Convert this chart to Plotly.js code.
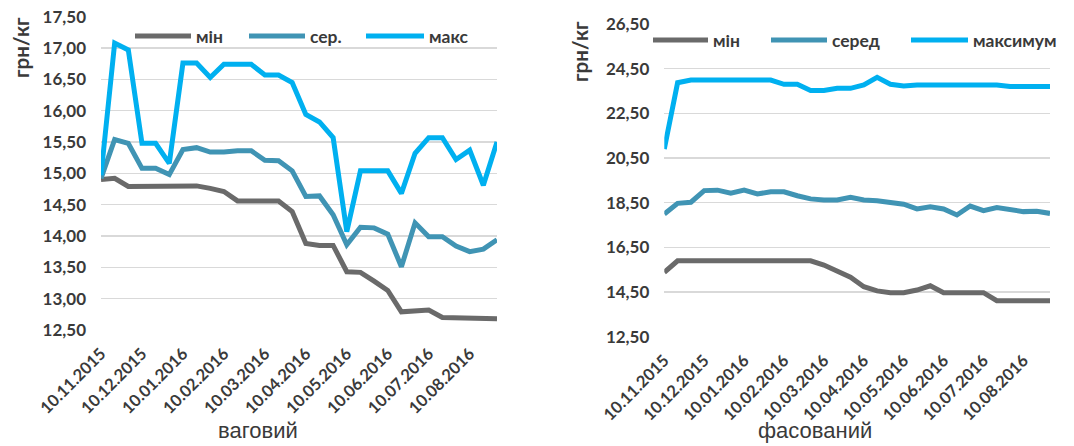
<!DOCTYPE html>
<html>
<head>
<meta charset="utf-8">
<script src="https://cdn.plot.ly/plotly-3.0.1.min.js"></script>
<style>
html,body{margin:0;padding:0;background:#fff;}
#chart{width:1074px;height:446px;}
</style>
</head>
<body>
<div id="chart"></div>
<script>
// Dates (roughly every 10 days)
const dates = [
  "10.11.2015","20.11.2015","30.11.2015",
  "10.12.2015","20.12.2015","30.12.2015",
  "10.01.2016","20.01.2016","30.01.2016",
  "10.02.2016","20.02.2016","29.02.2016",
  "10.03.2016","20.03.2016","30.03.2016",
  "10.04.2016","20.04.2016","30.04.2016",
  "10.05.2016","20.05.2016","30.05.2016",
  "10.06.2016","20.06.2016","30.06.2016",
  "10.07.2016","20.07.2016","30.07.2016",
  "10.08.2016","20.08.2016","30.08.2016"
];
const tickDates = ["10.11.2015","10.12.2015","10.01.2016","10.02.2016","10.03.2016",
  "10.04.2016","10.05.2016","10.06.2016","10.07.2016","10.08.2016"];

// ваговий (by weight)
const wMin = [14.90,14.92,14.79,14.79,14.79,14.79,14.79,14.80,14.76,14.71,
  14.56,14.56,14.56,14.56,14.39,13.88,13.85,13.85,13.43,13.42,
  13.28,13.13,12.79,12.80,12.82,12.70,12.70,12.70,12.70,12.68];
const wAvg = [14.92,15.54,15.48,15.08,15.08,14.98,15.38,15.41,15.34,15.34,
  15.36,15.36,15.21,15.20,15.04,14.63,14.64,14.34,13.86,14.14,
  14.13,14.03,13.51,14.21,13.99,13.99,13.84,13.75,13.79,13.94];
const wMax = [14.97,17.08,16.97,15.48,15.48,15.16,16.76,16.76,16.53,16.74,
  16.74,16.74,16.57,16.57,16.45,15.94,15.82,15.57,14.07,15.04,
  15.04,15.04,14.68,15.32,15.57,15.57,15.22,15.37,14.81,15.50];

// фасований (packed)
const pMin = [15.38,15.90,15.90,15.90,15.90,15.90,15.90,15.90,15.90,15.90,
  15.90,15.90,15.71,15.44,15.16,14.74,14.55,14.47,14.47,14.59,
  14.78,14.47,14.47,14.47,14.47,14.11,14.11,14.11,14.11,14.11];
const pAvg = [17.99,18.47,18.52,19.04,19.06,18.92,19.06,18.89,18.99,18.99,
  18.81,18.67,18.62,18.62,18.74,18.62,18.59,18.50,18.43,18.22,
  18.32,18.22,17.95,18.35,18.14,18.28,18.17,18.10,18.12,18.02];
const pMax = [20.90,23.87,23.99,23.99,23.99,23.99,23.99,23.99,23.99,23.80,
  23.80,23.52,23.52,23.62,23.62,23.77,24.11,23.80,23.73,23.77,
  23.77,23.77,23.77,23.77,23.77,23.77,23.70,23.70,23.70,23.70];

const leftNames = ["мін","сер.","макс"];
const rightNames = ["мін","серед","максимум"];
const colors = ["#6a6a6a","#4094b4","#00b0f0"];

const W = 1074, H = 446;
const px = v => v / W;
const py = v => 1 - v / H;

function tr(y, name, color, xa, ya) {
  return {x: dates, y: y, name: name, type: "scatter", mode: "lines",
    line: {color: color, width: 5}, xaxis: xa, yaxis: ya, showlegend: false,
    hoverinfo: "y"};
}

const data = [
  tr(wMin, leftNames[0], colors[0], "x", "y"),
  tr(wAvg, leftNames[1], colors[1], "x", "y"),
  tr(wMax, leftNames[2], colors[2], "x", "y"),
  tr(pMin, rightNames[0], colors[0], "x2", "y2"),
  tr(pAvg, rightNames[1], colors[1], "x2", "y2"),
  tr(pMax, rightNames[2], colors[2], "x2", "y2")
];

const FAM = "Lato, 'Open Sans', sans-serif";
const tickFont = {family: FAM, size: 17, color: "#3a3a3a", weight: "bold"};
const xTickFont = {family: FAM, size: 16.5, color: "#3a3a3a", weight: "bold"};
const titleFont = {family: "'Liberation Sans', Arial, sans-serif", size: 22, color: "#3a3a3a"};

function xAxis(domain, anchor) {
  return {domain: domain, anchor: anchor, type: "category", range: [0, dates.length - 1],
    tickmode: "array", tickvals: tickDates, ticktext: tickDates, tickangle: -45,
    tickfont: xTickFont, showgrid: false, zeroline: false, showline: false, ticks: "",
    ticklabelstandoff: 10, fixedrange: true};
}
function yAxis(domain, anchor, range, dtick) {
  return {domain: domain, anchor: anchor, range: range, dtick: dtick, tick0: 12.5,
    tickformat: ".2f", tickfont: tickFont, showgrid: true, gridcolor: "#d9d9d9",
    gridwidth: 1.5, zeroline: false, showline: false, ticks: "", ticklabelstandoff: 14,
    fixedrange: true};
}

const annotations = [];
const shapes = [];

// custom legends
function legendItem(x0, x1, y, color, label) {
  shapes.push({type: "line", xref: "paper", yref: "paper", x0: px(x0), x1: px(x1),
    y0: py(y), y1: py(y), line: {color: color, width: 5}});
  annotations.push({xref: "paper", yref: "paper", x: px(x1 + 3), y: py(y), xanchor: "left",
    yanchor: "middle", showarrow: false, text: label,
    font: {family: FAM, size: 17.5, color: "#3a3a3a", weight: "bold"}});
}
legendItem(135, 191, 36, colors[0], leftNames[0]);
legendItem(249, 305, 36, colors[1], leftNames[1]);
legendItem(366, 424, 36, colors[2], leftNames[2]);
legendItem(653, 708, 40, colors[0], rightNames[0]);
legendItem(771, 827, 40, colors[1], rightNames[1]);
legendItem(911, 968, 40, colors[2], rightNames[2]);

// y titles
const yTitleFont = {family: FAM, size: 20.5, color: "#3a3a3a", weight: "bold"};
annotations.push({xref: "paper", yref: "paper", x: px(21), y: py(48), textangle: -90,
  showarrow: false, text: "грн/кг", xanchor: "center", yanchor: "middle", font: yTitleFont});
annotations.push({xref: "paper", yref: "paper", x: px(580), y: py(52), textangle: -90,
  showarrow: false, text: "грн/кг", xanchor: "center", yanchor: "middle", font: yTitleFont});
// x titles
annotations.push({xref: "paper", yref: "paper", x: px(258), y: py(445), showarrow: false,
  text: "ваговий", xanchor: "center", yanchor: "bottom", font: titleFont});
annotations.push({xref: "paper", yref: "paper", x: px(815), y: py(445), showarrow: false,
  text: "фасований", xanchor: "center", yanchor: "bottom", font: titleFont});

const layout = {
  width: W, height: H,
  margin: {l: 0, r: 0, t: 0, b: 0},
  paper_bgcolor: "#ffffff", plot_bgcolor: "#ffffff",
  separators: ", ",
  showlegend: false,
  xaxis: xAxis([px(101), px(497)], "y"),
  yaxis: yAxis([py(330), py(16.7)], "x", [12.5, 17.5], 0.5),
  xaxis2: xAxis([px(664.3), px(1050)], "y2"),
  yaxis2: yAxis([py(336.7), py(24)], "x2", [12.5, 26.5], 2),
  annotations: annotations,
  shapes: shapes
};

Plotly.newPlot("chart", data, layout, {displayModeBar: false, staticPlot: true});
</script>
</body>
</html>
